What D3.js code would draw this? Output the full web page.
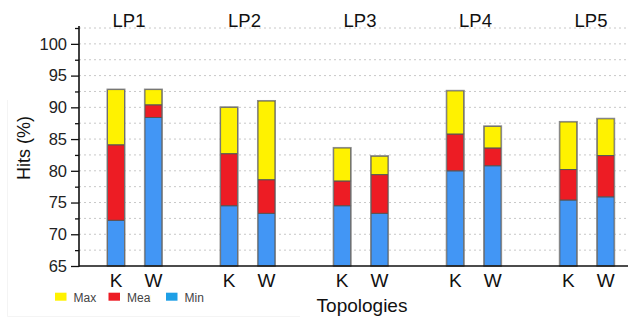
<!DOCTYPE html>
<html>
<head>
<meta charset="utf-8">
<script src="https://cdn.jsdelivr.net/npm/d3@7"></script>
<style>
  html, body { margin: 0; padding: 0; background: #fff; }
  svg { display: block; font-family: "Liberation Sans", Arial, sans-serif; }
</style>
</head>
<body>
<svg id="chart" width="633" height="320"></svg>
<script>
// Hit rates (%) per landing pattern, for the K and W topologies
const groups = ["LP1", "LP2", "LP3", "LP4", "LP5"];
const topologies = ["K", "W"];
const minK  = [72.2, 74.5, 74.5, 80.0, 75.4];
const minW  = [88.4, 73.3, 73.3, 80.8, 75.9];
const meanK = [84.1, 82.7, 78.4, 85.8, 80.2];
const meanW = [90.4, 78.6, 79.4, 83.6, 82.4];
const maxK  = [92.8, 90.0, 83.6, 92.6, 87.7];
const maxW  = [92.8, 91.0, 82.3, 87.0, 88.2];
const yTicks = [65, 70, 75, 80, 85, 90, 95, 100];
const legendLabels = ["Max", "Mean", "Min"];

const colors = { max: "#fff200", mean: "#ed1c24", min: "#4296f5" };
const legendColors = ["#fff200", "#ed1c24", "#1e9fe6"];

const svg = d3.select("#chart");
const plotLeft = 79, plotRight = 628, plotTop = 26, plotBottom = 266;

const y = d3.scaleLinear().domain([65, 102.5]).range([plotBottom, 28]);
const xGroup = d3.scalePoint().domain(groups).range([134.7, 587]);
const xTopo = d3.scalePoint().domain(topologies).range([-18.7, 18.7]);
const xTitle = d3.scalePoint().domain(groups).range([129, 591]);
const barW = 17;

// very faint panel edge at the lower left
svg.append("path").attr("d", "M7.5,100 V316.5 H300")
  .attr("fill", "none").attr("stroke", "#f4f4f4").attr("stroke-width", 1);

// dotted horizontal grid every 2.5
const gridVals = d3.range(67.5, 102.6, 2.5);
svg.append("g").selectAll("line").data(gridVals).join("line")
  .attr("x1", plotLeft).attr("x2", plotRight)
  .attr("y1", d => y(d)).attr("y2", d => y(d))
  .attr("stroke", "#c8c8c8").attr("stroke-width", 1)
  .attr("stroke-dasharray", "2,3");

// rows of bar data
const rows = [];
groups.forEach((g, i) => {
  rows.push({ g, t: "K", min: minK[i], mean: meanK[i], max: maxK[i] });
  rows.push({ g, t: "W", min: minW[i], mean: meanW[i], max: maxW[i] });
});

const bars = svg.append("g").selectAll("g").data(rows).join("g")
  .attr("transform", d => `translate(${xGroup(d.g) + xTopo(d.t) - barW / 2},0)`);

const segs = d => [
  { lo: 65, hi: d.min, c: colors.min },
  { lo: d.min, hi: d.mean, c: colors.mean },
  { lo: d.mean, hi: d.max, c: colors.max }
];
bars.selectAll("rect.seg").data(segs).join("rect")
  .attr("class", "seg")
  .attr("x", 0).attr("width", barW)
  .attr("y", s => y(s.hi)).attr("height", s => y(s.lo) - y(s.hi))
  .attr("fill", s => s.c)
  .attr("stroke", "#555").attr("stroke-width", 1);
// soft outline around each whole bar
bars.append("rect")
  .attr("x", -0.5).attr("width", barW + 1)
  .attr("y", d => y(d.max) - 0.5).attr("height", d => y(65) - y(d.max) + 0.5)
  .attr("fill", "none").attr("stroke", "#8a8a8a").attr("stroke-width", 1);

// y axis
const yAxis = d3.axisLeft(y).tickValues(yTicks).tickSize(8).tickSizeOuter(0).tickPadding(4);
const gy = svg.append("g").attr("transform", `translate(${plotLeft},0)`).call(yAxis);
gy.select(".domain").remove();
gy.selectAll(".tick line").attr("stroke", "#111").attr("stroke-width", 1.3);
gy.selectAll(".tick text").attr("font-size", 16.5).attr("fill", "#222")
  .attr("font-family", "Liberation Sans, Arial, sans-serif");
const minorAxis = d3.axisLeft(y).tickValues(d3.range(67.5, 103, 5)).tickSize(4).tickFormat("");
const gm = svg.append("g").attr("transform", `translate(${plotLeft},0)`).call(minorAxis);
gm.select(".domain").remove();
gm.selectAll(".tick line").attr("stroke", "#111").attr("stroke-width", 1.3);
svg.append("line").attr("x1", plotLeft).attr("x2", plotLeft).attr("y1", plotTop).attr("y2", plotBottom + 0.7)
  .attr("stroke", "#111").attr("stroke-width", 1.6);

// x axis baseline
svg.append("line").attr("x1", plotLeft).attr("x2", plotRight).attr("y1", plotBottom).attr("y2", plotBottom)
  .attr("stroke", "#111").attr("stroke-width", 1.6);

// topology labels under bars
svg.append("g").selectAll("text").data(rows).join("text")
  .attr("x", d => xGroup(d.g) + xTopo(d.t))
  .attr("y", 287)
  .attr("text-anchor", "middle")
  .attr("font-size", 19).attr("fill", "#111")
  .text(d => d.t);

// group titles
svg.append("g").selectAll("text").data(groups).join("text")
  .attr("x", d => xTitle(d)).attr("y", 27)
  .attr("text-anchor", "middle")
  .attr("font-size", 18.5).attr("fill", "#111")
  .text(d => d);

// axis titles
svg.append("text")
  .attr("transform", "translate(30,148) rotate(-90)")
  .attr("text-anchor", "middle")
  .attr("font-size", 18).attr("fill", "#111")
  .text("Hits (%)");
svg.append("text")
  .attr("x", 362).attr("y", 312)
  .attr("text-anchor", "middle")
  .attr("font-size", 19).attr("fill", "#111")
  .text("Topologies");

// legend; the Mean label is cut short by the Min swatch
svg.append("defs").append("clipPath").attr("id", "legclip")
  .append("rect").attr("x", -20).attr("y", 0).attr("width", 62).attr("height", 320);
const legX = [55, 108.5, 166];
const leg = svg.append("g").selectAll("g").data(legendLabels).join("g")
  .attr("transform", (d, i) => `translate(${legX[i]},0)`);
leg.append("rect").attr("x", 0).attr("y", 292.7).attr("width", 11.5).attr("height", 8)
  .attr("fill", (d, i) => legendColors[i]);
leg.append("text").attr("x", 18.5).attr("y", 301.5)
  .attr("font-size", 12).attr("fill", "#444")
  .attr("clip-path", (d, i) => i === 1 ? "url(#legclip)" : null)
  .text(d => d);
</script>
</body>
</html>
